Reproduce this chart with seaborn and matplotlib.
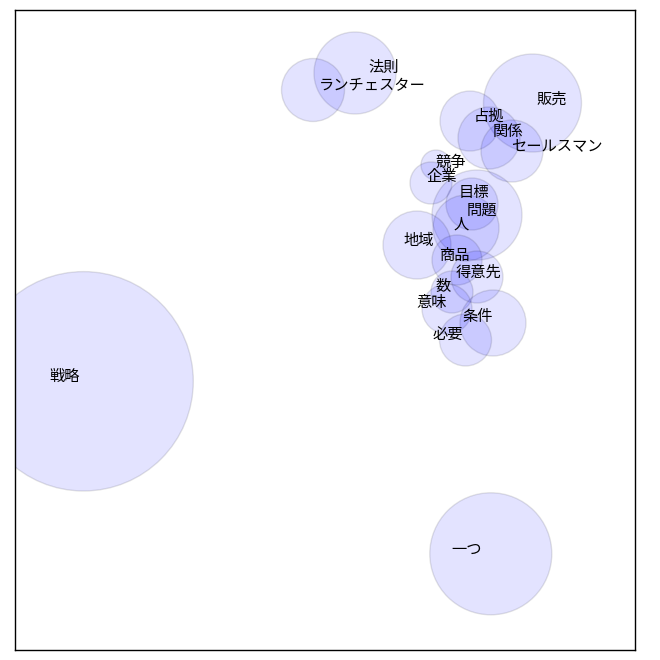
import matplotlib
matplotlib.use("Agg")
import matplotlib.pyplot as plt
import seaborn as sns
import pandas as pd

sns.set_style("white")
plt.rcParams['font.family'] = ['Noto Sans CJK JP', 'DejaVu Sans']

words = ["戦略", "一つ", "販売", "法則", "ランチェスター", "占拠", "関係", "セールスマン",
         "競争", "企業", "目標", "問題", "人", "地域", "商品", "得意先", "数", "意味",
         "条件", "必要"]
x_vals = [68.6, 475.8, 517.5, 340, 298, 455, 474, 497,
          421, 416, 457, 462, 451, 402, 442, 462, 437, 432,
          478, 450.5]
y_vals = [268.7, 96.2, 547, 577, 560, 529, 512, 499,
          485, 467, 446, 435, 422, 405, 390, 373, 358, 341,
          327, 310]
radius = [109.7, 61, 49, 41, 31.5, 30, 31, 31,
          15, 21, 26, 45, 33, 34, 25, 26, 21, 25,
          33, 26]
label_x = [49.7, 451.7, 537, 369, 357, 474, 493, 542,
           436, 427, 459, 466.5, 446, 404, 440, 464, 428.5, 417,
           463, 433]
label_y = [273.3, 101, 551, 583, 564, 534, 519, 503,
           488, 473, 458, 440, 426, 409, 395, 378, 364, 347,
           333, 315]

DPI = 100
df = pd.DataFrame({"x": x_vals, "y": y_vals, "r": radius, "word": words})
df["s"] = (2 * df["r"] * 72 / DPI) ** 2

fig = plt.figure(figsize=(6.6, 6.6), dpi=DPI)
ax = fig.add_axes([15 / 660, 10 / 660, 620 / 660, 640 / 660])

sns.scatterplot(data=df, x="x", y="y", s=df["s"].values, color="blue",
                alpha=0.11, edgecolor="black", linewidth=1, ax=ax, legend=False)

for w, lx, ly in zip(words, label_x, label_y):
    ax.text(lx, ly, w, ha="center", va="center", fontsize=11, color="black")

ax.set_xlim(0, 620)
ax.set_ylim(0, 640)
ax.set_xticks([])
ax.set_yticks([])
ax.set_xlabel("")
ax.set_ylabel("")
for sp in ax.spines.values():
    sp.set_color("black")
    sp.set_linewidth(1)

fig.savefig("out.png", dpi=DPI)
